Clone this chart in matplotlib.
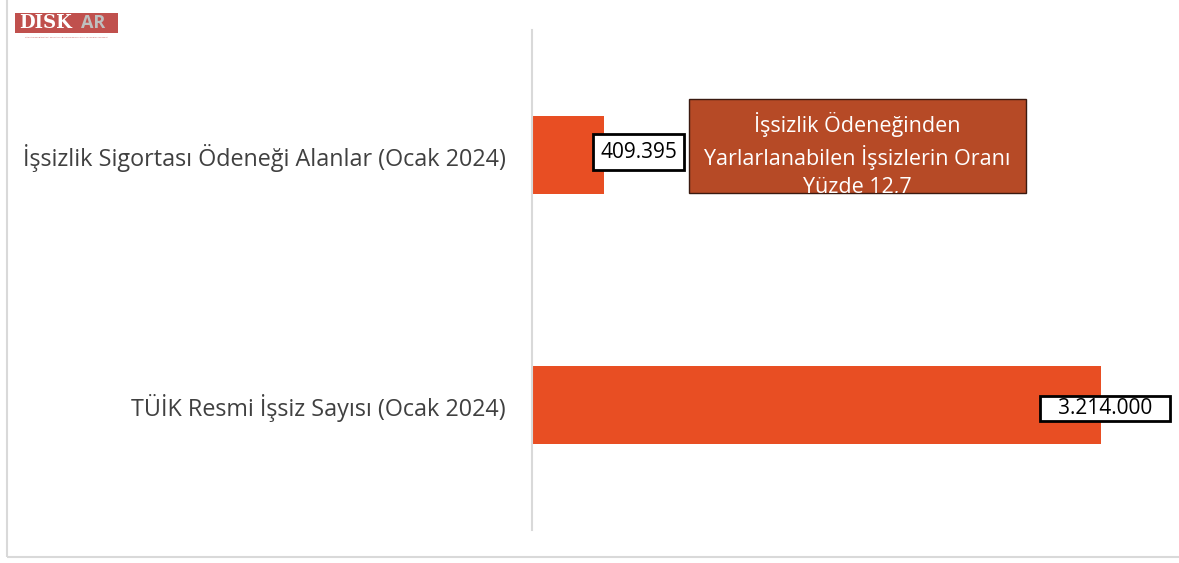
import matplotlib.pyplot as plt
from matplotlib.patches import Rectangle

plt.rcParams['font.family'] = ['Open Sans', 'DejaVu Sans']

categories = ['TÜİK Resmi İşsiz Sayısı (Ocak 2024)',
              'İşsizlik Sigortası Ödeneği Alanlar (Ocak 2024)']
values = [3214000, 409395]
value_labels = ['3.214.000', '409.395']
note = 'İşsizlik Ödeneğinden\nYarlarlanabilen İşsizlerin Oranı\nYüzde 12,7'

bar_color = '#E84E23'
note_color = '#B64A26'

W, H = 1179, 563
fig = plt.figure(figsize=(W / 100, H / 100), dpi=100)

# outer frame
fig.add_artist(Rectangle((7 / W, 6 / H), 1.2, 1.2, transform=fig.transFigure,
                         fill=False, edgecolor='#d9d9d9', linewidth=1.5))

ax = fig.add_axes([532 / W, 1 - 530 / H, 620 / W, 500 / H])
xmax = 3214000 * 620 / 569
ax.barh(range(len(values)), values, height=0.312, color=bar_color)
ax.set_xlim(0, xmax)
ax.set_ylim(-0.5, 1.5)
for s in ['top', 'right', 'bottom']:
    ax.spines[s].set_visible(False)
ax.spines['left'].set_color('#d9d9d9')
ax.spines['left'].set_linewidth(1.5)
ax.set_xticks([])
ax.set_yticks(range(len(categories)))
ax.set_yticklabels(categories, fontsize=16.8, color='#404040')
ax.tick_params(axis='y', length=0, pad=19)

# data labels
ax.annotate('   ' + value_labels[0] + '   ', xy=(values[0], 0), xytext=(3, -2.5),
            textcoords='offset points', fontsize=15, ha='center', va='center',
            bbox=dict(boxstyle='square,pad=0.08', fc='white', ec='black', lw=2))
ax.annotate(value_labels[1], xy=(values[1], 1), xytext=(24.5, 2),
            textcoords='offset points', fontsize=15, ha='center', va='center',
            bbox=dict(boxstyle='square,pad=0.35', fc='white', ec='black', lw=2))

# note box
box = Rectangle((689 / W, 1 - 193 / H), 337 / W, 94 / H,
                transform=fig.transFigure, facecolor=note_color,
                edgecolor='#3a1a10', linewidth=1)
fig.add_artist(box)
t = fig.text(857 / W, 1 - 155 / H, note, color='white', fontsize=15.5,
             ha='center', va='center', linespacing=1.4)
t.set_clip_path(box)

# logo
fig.add_artist(Rectangle((15 / W, 1 - 33 / H), 103 / W, 20 / H,
                         transform=fig.transFigure, facecolor='#C0504D',
                         edgecolor='none'))
fig.text(19 / W, 1 - 23.5 / H, 'DİSK', color='white', fontsize=13,
         fontweight='bold', family='DejaVu Serif', va='center')
fig.text(81 / W, 1 - 23.5 / H, 'AR', color='#bfbfbf', fontsize=13,
         fontweight='bold', va='center')
fig.text(66 / W, 1 - 37 / H, 'TÜRKİYE DEVRİMCİ İŞÇİ SENDİKALARI KONFEDERASYONU ARAŞTIRMA MERKEZİ',
         color='#C0504D', fontsize=1.6, ha='center', va='center')

fig.savefig('out.png', dpi=100)
